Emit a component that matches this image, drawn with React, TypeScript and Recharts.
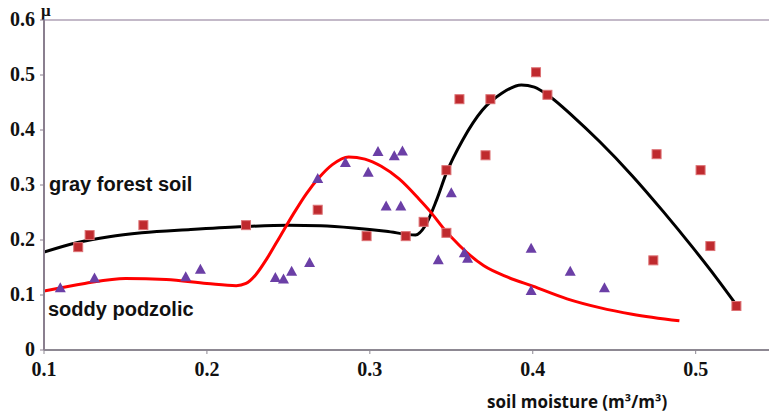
import React from "react";
import {
  ComposedChart,
  Line,
  Scatter,
  XAxis,
  YAxis,
  ReferenceLine,
} from "recharts";

// ─── Data ────────────────────────────────────────────────────────────────────

const xTicks = [0.1, 0.2, 0.3, 0.4, 0.5];
const yTicks = [0, 0.1, 0.2, 0.3, 0.4, 0.5, 0.6];

// gray forest soil – measured points (squares)
const forestMoisture = [
  0.121, 0.128, 0.161, 0.224, 0.268, 0.298, 0.322, 0.333, 0.347, 0.347,
  0.355, 0.371, 0.374, 0.402, 0.409, 0.474, 0.476, 0.503, 0.509, 0.525,
];
const forestMu = [
  0.187, 0.209, 0.227, 0.227, 0.255, 0.207, 0.207, 0.233, 0.213, 0.327,
  0.456, 0.354, 0.456, 0.505, 0.464, 0.163, 0.356, 0.327, 0.189, 0.08,
];

// soddy podzolic – measured points (triangles)
const podzolMoisture = [
  0.11, 0.131, 0.187, 0.196, 0.242, 0.247, 0.252, 0.263, 0.268, 0.285,
  0.299, 0.305, 0.31, 0.315, 0.319, 0.32, 0.342, 0.35, 0.358, 0.36,
  0.399, 0.399, 0.423, 0.444,
];
const podzolMu = [
  0.113, 0.131, 0.133, 0.147, 0.132, 0.129, 0.143, 0.159, 0.312, 0.341,
  0.323, 0.361, 0.262, 0.353, 0.262, 0.362, 0.164, 0.286, 0.177, 0.167,
  0.185, 0.108, 0.143, 0.113,
];

// fitted curves
const forestFitX = [
  0.1, 0.12, 0.14, 0.16, 0.19, 0.22, 0.25, 0.27, 0.29, 0.31, 0.328, 0.334,
  0.341, 0.347, 0.357, 0.369, 0.381, 0.393, 0.401, 0.41, 0.425, 0.441,
  0.461, 0.48, 0.498, 0.512, 0.525,
];
const forestFitY = [
  0.178, 0.195, 0.206, 0.213, 0.219, 0.224, 0.227, 0.226, 0.222, 0.216,
  0.209, 0.226, 0.273, 0.322, 0.382, 0.436, 0.467, 0.482, 0.478, 0.462,
  0.424, 0.379, 0.317, 0.252, 0.187, 0.134, 0.082,
];

const podzolFitX = [
  0.1, 0.125, 0.15, 0.175, 0.2, 0.218, 0.224, 0.23, 0.237, 0.245, 0.253,
  0.261, 0.269, 0.277, 0.287, 0.297, 0.307, 0.318, 0.33, 0.337, 0.345,
  0.355, 0.37, 0.385, 0.4, 0.421, 0.441, 0.461, 0.49,
];
const podzolFitY = [
  0.107, 0.121, 0.13, 0.128, 0.121, 0.117, 0.121, 0.137, 0.167, 0.207,
  0.247, 0.284, 0.314, 0.337, 0.351, 0.347, 0.334, 0.311, 0.275, 0.252,
  0.222, 0.19, 0.153, 0.132, 0.116, 0.093, 0.077, 0.065, 0.053,
];

const toPoints = (xs: number[], ys: number[]) =>
  xs.map((x, i) => ({ x, y: ys[i] }));

const forestPts = toPoints(forestMoisture, forestMu);
const podzolPts = toPoints(podzolMoisture, podzolMu);
const forestFit = toPoints(forestFitX, forestFitY);
const podzolFit = toPoints(podzolFitX, podzolFitY);

// ─── Marker shapes, ticks, labels ────────────────────────────────────────────

function SquareMark({ cx, cy }: any) {
  return (
    <rect
      x={cx - 4.5}
      y={cy - 4.5}
      width={9}
      height={9}
      fill="#bf2a2e"
      stroke="#dd7275"
      strokeWidth={1}
    />
  );
}

function TriangleMark({ cx, cy }: any) {
  return (
    <polygon
      points={`${cx},${cy - 5.5} ${cx + 5.5},${cy + 4.5} ${cx - 5.5},${cy + 4.5}`}
      fill="#6b3fa6"
    />
  );
}

const SERIF = "'Times New Roman', 'Liberation Serif', serif";

function XTick({ x, y, payload }: any) {
  return (
    <text
      x={x}
      y={y + 20}
      textAnchor="middle"
      fontFamily={SERIF}
      fontWeight={700}
      fontSize={20}
      fill="#111"
    >
      {payload.value.toFixed(1)}
    </text>
  );
}

function YTick({ x, y, payload }: any) {
  return (
    <text
      x={x}
      y={y + 6}
      textAnchor="end"
      fontFamily={SERIF}
      fontWeight={700}
      fontSize={20}
      fill="#111"
    >
      {payload.value === 0 ? "0" : payload.value.toFixed(1)}
    </text>
  );
}

function MuLabel({ viewBox }: any) {
  return (
    <text
      x={viewBox.x - 3}
      y={viewBox.y - 4}
      fontFamily={SERIF}
      fontWeight={700}
      fontSize={17}
      fill="#111"
    >
      μ
    </text>
  );
}

export default function App() {
  return (
    <div
      style={{
        position: "absolute",
        left: 0,
        top: 0,
        width: 769,
        height: 415,
        background: "#fff",
        overflow: "hidden",
      }}
    >
      <ComposedChart
        width={769}
        height={415}
        margin={{ top: 20, right: 0, left: 0, bottom: 35 }}
      >
        <XAxis
          type="number"
          dataKey="x"
          domain={[0.1, 0.545]}
          ticks={xTicks}
          allowDataOverflow
          tick={<XTick />}
          tickSize={4}
          tickMargin={2}
          height={30}
          axisLine={{ stroke: "#8d8892", strokeWidth: 2 }}
          tickLine={{ stroke: "#8d8892" }}
        />
        <YAxis
          type="number"
          dataKey="y"
          domain={[0, 0.6]}
          ticks={yTicks}
          tick={<YTick />}
          tickSize={4}
          tickMargin={5}
          width={44}
          axisLine={{ stroke: "#8a7f8f", strokeWidth: 2 }}
          tickLine={{ stroke: "#8a7f8f" }}
        />
        <ReferenceLine
          y={0.6}
          stroke="#c3b9c8"
          strokeWidth={2}
          label={<MuLabel />}
        />
        <Line
          data={forestFit}
          dataKey="y"
          type="monotone"
          stroke="#000"
          strokeWidth={3}
          dot={false}
          activeDot={false}
          isAnimationActive={false}
        />
        <Line
          data={podzolFit}
          dataKey="y"
          type="monotone"
          stroke="#ff0000"
          strokeWidth={3}
          dot={false}
          activeDot={false}
          isAnimationActive={false}
        />
        <Scatter
          data={forestPts}
          dataKey="y"
          shape={<SquareMark />}
          isAnimationActive={false}
        />
        <Scatter
          data={podzolPts}
          dataKey="y"
          shape={<TriangleMark />}
          isAnimationActive={false}
        />
      </ComposedChart>

      <div
        style={{
          position: "absolute",
          left: 49,
          top: 173,
          fontFamily: "'Liberation Sans', Arial, sans-serif",
          fontWeight: 700,
          fontSize: 20,
          color: "#111",
          whiteSpace: "nowrap",
        }}
      >
        gray forest soil
      </div>
      <div
        style={{
          position: "absolute",
          left: 48,
          top: 298,
          fontFamily: "'Liberation Sans', Arial, sans-serif",
          fontWeight: 700,
          fontSize: 20,
          color: "#111",
          whiteSpace: "nowrap",
        }}
      >
        soddy podzolic
      </div>
      <div
        style={{
          position: "absolute",
          left: 487,
          top: 390,
          fontFamily: "'Open Sans', sans-serif",
          fontWeight: 700,
          fontSize: 17,
          color: "#111",
          whiteSpace: "nowrap",
        }}
      >
        soil moisture (m³/m³)
      </div>
    </div>
  );
}
